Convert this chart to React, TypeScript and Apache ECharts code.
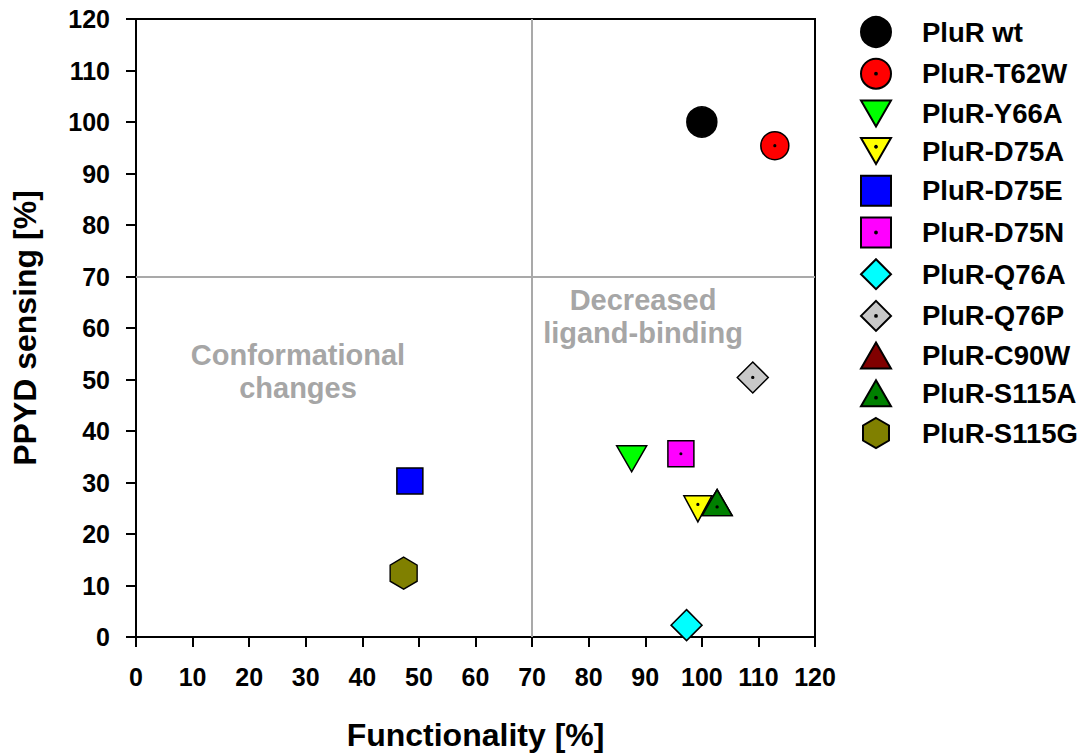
import React, { useEffect, useRef } from "react";
import * as echarts from "echarts";

const FONT = "'Liberation Sans', Arial, Helvetica, sans-serif";

const seriesNames = [
  "PluR wt",
  "PluR-T62W",
  "PluR-Y66A",
  "PluR-D75A",
  "PluR-D75E",
  "PluR-D75N",
  "PluR-Q76A",
  "PluR-Q76P",
  "PluR-C90W",
  "PluR-S115A",
  "PluR-S115G",
];
const functionality = [100, 112.9, 87.6, 99.3, 48.4, 96.3, 97.3, 109.0, 102.7, 102.7, 47.3];
const sensing = [100, 95.4, 34.6, 24.9, 30.3, 35.6, 2.3, 50.4, 26.1, 26.1, 12.4];
const colors = ["#000000", "#ff0000", "#00ff00", "#ffff00", "#0000ff", "#ff00ff", "#00ffff", "#c8c8c8", "#800000", "#008000", "#808000"];

const xTicks = [0, 120, 10];
const yTicks = [0, 120, 10];

const dot = (cy: number) =>
  `M0,${cy - 0.6}A0.6,0.6,0,1,1,0,${cy + 0.6}A0.6,0.6,0,1,1,0,${cy - 0.6}Z`;
const circlePath = "M0,-10A10,10,0,1,1,0,10A10,10,0,1,1,0,-10Z";
const triDownPath = "M-10,-8.66L10,-8.66L0,8.66Z";
const triUpPath = "M0,-8.66L10,8.66L-10,8.66Z";
const rectPath = "M-10,-10L10,-10L10,10L-10,10Z";
const diamondPath = "M0,-10L10,0L0,10L-10,0Z";
const hexPath = "M0,-10L8.66,-5L8.66,5L0,10L-8.66,5L-8.66,-5Z";

const symbols = [
  "circle",
  "path://" + circlePath + dot(0),
  "path://" + triDownPath,
  "path://" + triDownPath + dot(-2.89),
  "rect",
  "path://" + rectPath + dot(0),
  "path://" + diamondPath,
  "path://" + diamondPath + dot(0),
  "path://" + triUpPath,
  "path://" + triUpPath + dot(2.89),
  "path://" + hexPath,
];
const symbolSizes: any[] = [30, 28, [30, 26], [28, 26], 26, 26, 31, 31, [30, 26], [30, 26], [27, 32]];

export default function App() {
  const ref = useRef<HTMLDivElement>(null);
  useEffect(() => {
    if (!ref.current) return;
    const chart = echarts.init(ref.current, undefined, { renderer: "svg" });
    const series: any[] = seriesNames.map((name, i) => ({
      name,
      type: "scatter",
      data: [[functionality[i], sensing[i]]],
      symbol: symbols[i],
      symbolSize: symbolSizes[i],
      itemStyle: { color: colors[i], borderColor: "#000", borderWidth: 1.5, opacity: 1 },
      emphasis: { disabled: true },
      z: 3,
    }));
    series.unshift({
      name: "quadrants",
      type: "scatter",
      data: [],
      silent: true,
      z: 1,
      markLine: {
        silent: true,
        symbol: "none",
        animation: false,
        label: { show: false },
        lineStyle: { color: "#a9a9a9", width: 2, type: "solid" },
        data: [{ xAxis: 70 }, { yAxis: 70 }],
      },
    });
    const axisCommon = {
      axisLine: { show: true, lineStyle: { color: "#000", width: 2 } },
      axisTick: { show: true, length: 10, lineStyle: { color: "#000", width: 2 } },
      splitLine: { show: false },
      nameTextStyle: { fontFamily: FONT, fontWeight: "bold", fontSize: 32, color: "#000" },
      nameLocation: "middle",
    };
    chart.setOption({
      animation: false,
      grid: {
        left: 136,
        right: 266,
        top: 19,
        bottom: 104,
        show: true,
        borderColor: "#000",
        borderWidth: 2,
      },
      xAxis: {
        ...axisCommon,
        type: "value",
        min: xTicks[0],
        max: xTicks[1],
        interval: xTicks[2],
        name: "Functionality [%]",
        nameGap: 82,
        axisLabel: { margin: 27, fontFamily: FONT, fontWeight: "bold", fontSize: 25, color: "#000" },
      },
      yAxis: {
        ...axisCommon,
        type: "value",
        min: yTicks[0],
        max: yTicks[1],
        interval: yTicks[2],
        name: "PPYD sensing [%]",
        nameGap: 95,
        axisLabel: { margin: 26, fontFamily: FONT, fontWeight: "bold", fontSize: 25, color: "#000" },
      },
      legend: {
        orient: "vertical",
        left: 855,
        top: 11,
        itemWidth: 30,
        itemHeight: 30,
        itemGap: 9.7,
        data: seriesNames,
        selectedMode: false,
        textStyle: { fontFamily: FONT, fontWeight: "bold", fontSize: 27.5, color: "#000", padding: [0, 0, 0, 26] },
      },
      graphic: [
        {
          type: "text",
          x: 298,
          y: 371,
          style: {
            text: "Conformational\nchanges",
            align: "center",
            verticalAlign: "middle",
            fill: "#a6a6a6",
            font: `bold 29px ${FONT}`,
            lineHeight: 33,
          },
        },
        {
          type: "text",
          x: 643,
          y: 316,
          style: {
            text: "Decreased\nligand-binding",
            align: "center",
            verticalAlign: "middle",
            fill: "#a6a6a6",
            font: `bold 29px ${FONT}`,
            lineHeight: 33,
          },
        },
      ],
      series,
    });
    return () => chart.dispose();
  }, []);
  return (
    <div
      ref={ref}
      style={{ position: "fixed", left: 0, top: 0, width: 1081, height: 756, background: "#fff" }}
    />
  );
}
